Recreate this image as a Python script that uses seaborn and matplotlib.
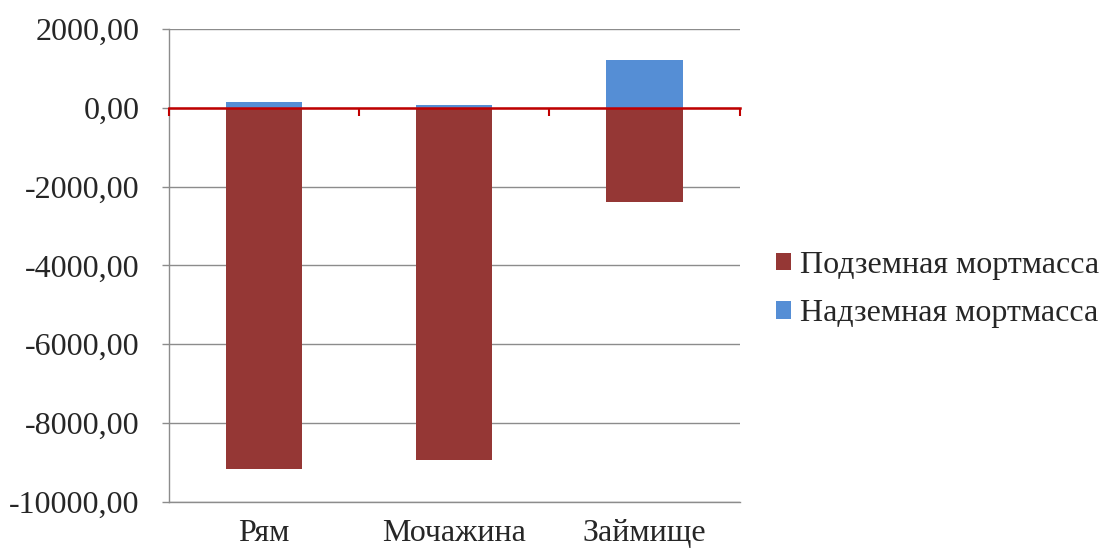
import matplotlib
matplotlib.use("Agg")
import matplotlib.pyplot as plt
import seaborn as sns
import pandas as pd
from matplotlib.patches import Patch

# Mortmass by site type
categories = ["Рям", "Мочажина", "Займище"]
underground = [-9160.0, -8930.0, -2385.0]   # Подземная мортмасса
aboveground = [135.0, 60.0, 1200.0]         # Надземная мортмасса
series_names = ["Подземная мортмасса", "Надземная мортмасса"]
y_ticks = [2000, 0, -2000, -4000, -6000, -8000, -10000]

RED = "#953735"
BLUE = "#558ED5"
GRID = "#8c8c8c"
ZERO = "#C00000"
TEXT = "#262626"

sns.set_theme(style="white")
plt.rcParams["font.family"] = ["Liberation Serif", "DejaVu Serif"]

df = pd.DataFrame({"site": categories, "under": underground, "above": aboveground})

fig = plt.figure(figsize=(11.09, 5.54), dpi=100)
ax = fig.add_axes([0.152, 0.094, 0.515, 0.854])

sns.barplot(data=df, x="site", y="under", color=RED, width=0.4,
            saturation=1, linewidth=0, ax=ax, zorder=3)
sns.barplot(data=df, x="site", y="above", color=BLUE, width=0.4,
            saturation=1, linewidth=0, ax=ax, zorder=3)

ymin, ymax = -10000, 2000
ax.set_ylim(ymin, ymax)
ax.set_xlim(-0.5, len(categories) - 0.5)
ax.set_yticks(y_ticks)
ax.set_yticklabels([f"{v:.2f}".replace(".", ",") for v in y_ticks])
ax.set_xlabel("")
ax.set_ylabel("")

ax.yaxis.grid(True, color=GRID, linewidth=1.0, zorder=0)
ax.set_axisbelow(True)

for side in ("top", "right"):
    ax.spines[side].set_visible(False)
for side in ("left", "bottom"):
    ax.spines[side].set_color(GRID)
    ax.spines[side].set_linewidth(1.0)

ax.tick_params(axis="y", direction="out", length=5, width=1, color=GRID,
               labelsize=23, labelcolor=TEXT, pad=16, left=True)
ax.tick_params(axis="x", length=0, labelsize=23, labelcolor=TEXT, pad=12)

# Category axis crossing at zero, drawn in red with boundary ticks
zero_loc = (0 - ymin) / (ymax - ymin)
sec = ax.secondary_xaxis(zero_loc)
sec.set_zorder(5)
sec.set_xticks([i - 0.5 for i in range(len(categories) + 1)])
sec.set_xticklabels([])
for s in ("top", "bottom"):
    sec.spines[s].set_color(ZERO)
    sec.spines[s].set_linewidth(1.8)
for s in ("left", "right"):
    sec.spines[s].set_visible(False)
sec.tick_params(axis="x", direction="in", length=6, width=1.5, color=ZERO)

handles = [Patch(facecolor=RED, edgecolor="none"),
           Patch(facecolor=BLUE, edgecolor="none")]
fig.legend(handles, series_names, loc="center left",
           bbox_to_anchor=(0.70, 0.477), frameon=False, fontsize=23,
           borderpad=0, borderaxespad=0,
           handlelength=0.45, handleheight=0.45, handletextpad=0.3,
           labelspacing=0.6, labelcolor=TEXT)

fig.savefig("out.png", dpi=100)
